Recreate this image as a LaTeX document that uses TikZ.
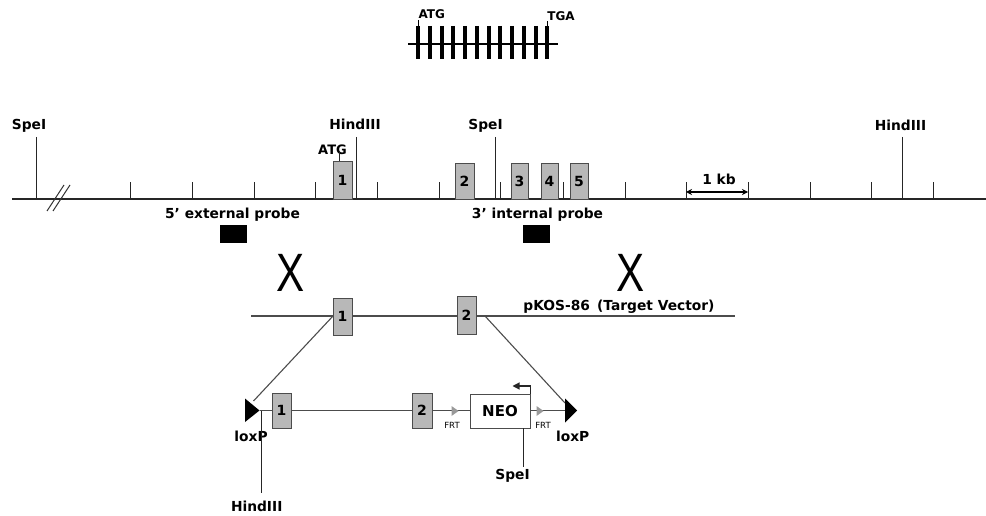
\documentclass[tikz,border=0pt]{standalone}
\usepackage{fontspec}
\setmainfont{DejaVu Sans}
\newfontfamily\xfont{Liberation Sans}
\usetikzlibrary{arrows.meta}
\tikzset{
 lbl/.style={font=\bfseries\fontsize{13.8}{16}\selectfont, inner sep=0pt, anchor=base},
 smalllbl/.style={font=\bfseries\fontsize{12}{14}\selectfont, inner sep=0pt, anchor=base},
 frtlbl/.style={font=\fontsize{8.5}{10}\selectfont, inner sep=0pt, anchor=base},
 exon/.style={draw=black!70, fill=black!28, line width=0.9pt, minimum width=19pt, minimum height=37pt, inner sep=0pt, font=\bfseries\fontsize{14}{16}\selectfont},
 mainln/.style={line width=1.3pt, black!85},
 greyln/.style={line width=1.1pt, black!70},
 tk/.style={line width=1pt, black!85},
 bigx/.style={font=\xfont\fontsize{54}{54}\selectfont, inner sep=0pt, anchor=base, xscale=0.78},
 probe/.style={fill=black, draw=none, minimum width=27pt, minimum height=18pt, inner sep=0pt},
 frtarrow/.style={fill=black!40},
 lox/.style={fill=black},
 neobox/.style={draw=black!70, fill=white, line width=0.9pt, minimum width=60pt, minimum height=34pt, inner sep=0pt, font=\bfseries\fontsize{15}{17}\selectfont},
}
\begin{document}
\begin{tikzpicture}[x=1pt,y=-1pt]
\useasboundingbox (0,0) rectangle (986,516);

% ---------- top gene scheme ----------
\coordinate (gL) at (408,44);
\coordinate (gR) at (558,44);
\draw[line width=1.2pt] (gL) -- (gR);
\foreach \i in {0,...,11}{
  \draw[line width=4pt] (418.3+\i*11.73,26) -- (418.3+\i*11.73,59.3);
}
\draw[line width=0.8pt] (418.3,20) -- (418.3,26);
\draw[line width=0.8pt] (547.3,21.5) -- (547.3,26);
\node[smalllbl] (atgtop) at (431.7,18.3) {ATG};
\node[smalllbl] (tgatop) at (561,20.7) {TGA};

% ---------- genomic locus ----------
\coordinate (mL) at (12,199);
\coordinate (mR) at (986,199);
\draw[mainln] (mL) -- (mR);
\foreach \x in {130,192,254,315,377,439,500,563,625,686,748,810,871,933}{
  \draw[tk] (\x,199) -- (\x,182);
}
% double slash
\draw[line width=1pt, black!80] (47,211) -- (64,185);
\draw[line width=1pt, black!80] (53,211) -- (70,185);

% restriction sites
\node[lbl] (spe1) at (29,130) {SpeI};
\coordinate (spe1a) at (36,137); \coordinate (spe1b) at (36,199);
\draw[tk] (spe1a) -- (spe1b);
\node[lbl] (hind1) at (355,130) {HindIII};
\coordinate (hind1a) at (356,137); \coordinate (hind1b) at (356,199);
\draw[tk] (hind1a) -- (hind1b);
\node[lbl] (spe2) at (485.5,130) {SpeI};
\coordinate (spe2a) at (495,137); \coordinate (spe2b) at (495,199);
\draw[tk] (spe2a) -- (spe2b);
\node[lbl] (hind2) at (900.5,130.5) {HindIII};
\coordinate (hind2a) at (902,137); \coordinate (hind2b) at (902,199);
\draw[tk] (hind2a) -- (hind2b);

% exons
\node[exon, minimum height=38pt] (m1) at (342.5,180) {1};
\node[exon, minimum height=36pt] (m2) at (464.5,181) {2};
\node[exon, minimum width=17pt, minimum height=36pt] (m3) at (519.5,181) {3};
\node[exon, minimum width=17pt, minimum height=36pt] (m4) at (549.5,181) {4};
\node[exon, minimum width=18pt, minimum height=36pt] (m5) at (579,181) {5};
\node[lbl, font=\bfseries\fontsize{13}{15}\selectfont] (atgm) at (332.5,155) {ATG};
\coordinate (atgml) at (339,152);
\draw[tk] (atgml) -- (atgml |- m1.north);

% scale
\coordinate (kbL) at (686,192); \coordinate (kbR) at (748,192);
\draw[line width=1.2pt, {Stealth[length=6pt,width=6pt]}-{Stealth[length=6pt,width=6pt]}] (kbL) -- (kbR);
\node[lbl] (kb) at (719,185) {1 kb};

% probes
\node[lbl] (p5lbl) at (232.5,218.5) {5' external probe};
\node[probe] (p5) at (233.5,234) {};
\node[lbl] (p3lbl) at (537.5,218.5) {3' internal probe};
\node[probe] (p3) at (536,234) {};

% crossover marks
\node[bigx] (x1) at (291,291.7) {X};
\node[bigx] (x2) at (631,291.7) {X};

% ---------- targeting vector ----------
\coordinate (tL) at (251,316);
\coordinate (tR) at (735,316);
\draw[greyln] (tL) -- (tR);
\node[exon, minimum height=37pt] (t1) at (342.5,316.5) {1};
\node[exon, minimum height=38pt] (t2) at (466.5,315) {2};
\node[lbl] (pkos) at (619,310.5) {pKOS-86 \,(Target Vector)};

% ---------- targeted allele ----------
\coordinate (lxLtip) at (259.5,410.5);
\coordinate (lxRtip) at (577,410.5);
\coordinate (lxRbase) at (565,410.5);
\coordinate (dLend) at (253.5,401);
\coordinate (dRs) at (485,316);
\coordinate (dRe) at (565,403);
\draw[greyln] (t1.west) -- (dLend);
\draw[greyln] (dRs) -- (dRe);
\draw[greyln] (lxLtip) -- (lxRbase);
\fill[lox] (lxLtip) -- ++(-14.5,-12) -- ++(0,23.5) -- cycle;
\fill[lox] (lxRtip) -- ++(-12,-12) -- ++(0,24) -- cycle;
\node[lbl] (loxL) at (251,441) {loxP};
\node[lbl] (loxR) at (572.7,441.5) {loxP};

\node[exon, minimum height=35pt] (b1) at (281.5,410.5) {1};
\node[exon, minimum width=20pt, minimum height=35pt] (b2) at (422,410.5) {2};

\coordinate (frt1) at (458.5,411);
\coordinate (frt2) at (543.5,411);
\fill[frtarrow] (frt1) -- ++(-7,-5) -- ++(0,10) -- cycle;
\fill[frtarrow] (frt2) -- ++(-7,-5) -- ++(0,10) -- cycle;
\node[frtlbl] (frt1l) at (452,428.3) {FRT};
\node[frtlbl] (frt2l) at (543,428.3) {FRT};

\node[neobox] (neo) at (500,411.3) {NEO};
\coordinate (prom) at (512.5,386);
\draw[line width=1.1pt, black!85, -{Triangle[length=7pt,width=7pt]}] (neo.north east) |- (prom);

% bottom restriction sites
\coordinate (sbt) at (523,428.3); \coordinate (sbb) at (523,467);
\draw[tk] (sbt) -- (sbb);
\node[lbl] (spe3) at (512.5,479.3) {SpeI};
\coordinate (hbt) at (261,411); \coordinate (hbb) at (261,493);
\draw[tk] (hbt) -- (hbb);
\node[lbl] (hind3) at (256.7,511.5) {HindIII};
\end{tikzpicture}
\end{document}
